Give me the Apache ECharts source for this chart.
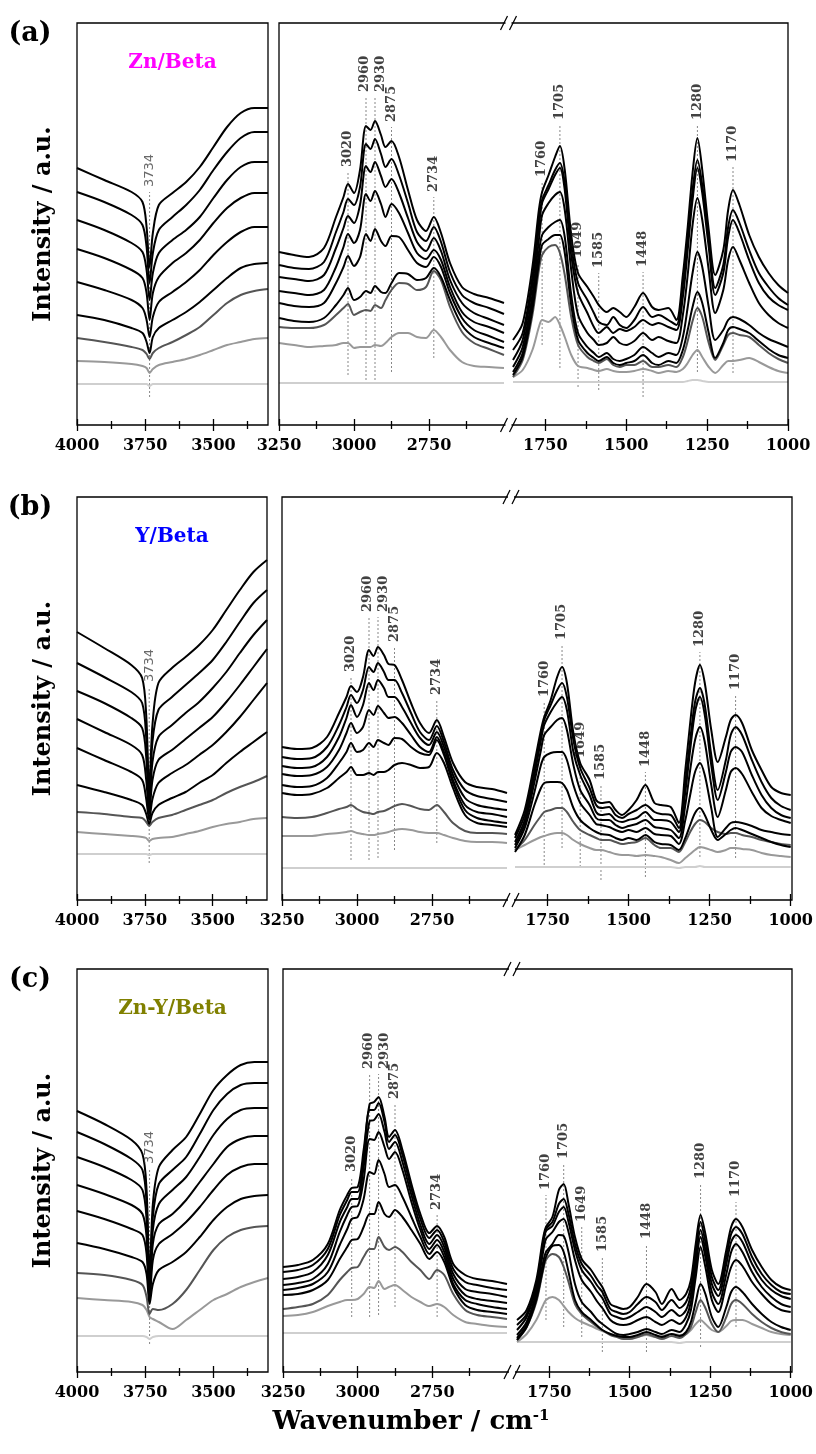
<!DOCTYPE html>
<html>
<head>
<meta charset="utf-8">
<title>In situ FTIR spectra</title>
<script src="https://cdn.jsdelivr.net/npm/echarts@6/dist/echarts.min.js"></script>
<style>
  html, body { margin: 0; padding: 0; background: #fff; }
  #chart { width: 816px; height: 1454px; }
</style>
</head>
<body>
<div id="chart"></div>
<script>
// wavenumber grids (cm-1) of the three windows
const xLeft = [4000, 3900, 3800, 3760, 3745, 3734, 3722, 3700, 3650, 3600, 3550, 3500, 3450, 3400, 3350, 3300];
const xMid = [3250, 3200, 3150, 3100, 3060, 3035, 3020, 3000, 2980, 2960, 2945, 2930, 2910, 2895, 2875, 2850, 2820, 2790, 2760, 2734, 2710, 2680, 2640, 2600, 2550, 2500];
const xRight = [1850, 1820, 1790, 1770, 1760, 1740, 1720, 1705, 1690, 1670, 1649, 1620, 1600, 1585, 1560, 1540, 1520, 1500, 1475, 1448,
  1420, 1400, 1370, 1345, 1325, 1310, 1295, 1280, 1265, 1245, 1225, 1200, 1185, 1170, 1150, 1120, 1090, 1060, 1030, 1000];

// tick labels
const ticksLeft = [4000, 3750, 3500];
const minorLeft = [3875, 3625, 3375];
const ticksMid = [3250, 3000, 2750];
const minorMid = [3125, 2875, 2625];
const ticksRight = [1750, 1500, 1250, 1000];
const minorRight = [1625, 1375, 1125];

// trace colours, top spectrum first
const traceColors = ['#000', '#000', '#000', '#000', '#000', '#000', '#555', '#999', '#cfcfcf'];

// (a) Zn/Beta
const znLeft = [
  [257,245,233,223,198,158,192,220,232,243,258,278,298,312,317,317],
  [233,223,210,200,178,142,172,195,208,220,235,255,273,287,293,293],
  [205,195,182,173,155,125,152,172,185,195,208,227,245,258,263,263],
  [176,167,155,147,132,105,132,148,162,172,185,202,217,227,232,232],
  [143,135,125,117,105,88,108,123,133,143,155,170,183,193,198,198],
  [110,105,97,92,83,72,88,97,105,113,123,135,147,157,161,162],
  [87,83,78,75,71,66,72,77,83,90,98,110,122,130,134,136],
  [64,63,61,59,57,52,56,60,63,66,70,75,80,83,86,87],
  [41,41,41,41,41,39,41,41,41,41,41,41,41,41,41,41]
];
const znMid = [
  [173,170,168,177,208,228,241,232,255,299,295,304,290,278,284,268,235,205,194,208,192,162,138,131,127,122],
  [160,157,156,163,193,213,226,220,238,281,276,286,271,258,266,250,222,193,184,198,183,153,130,122,117,111],
  [148,146,144,150,177,197,209,202,220,259,253,263,249,238,246,232,207,183,174,187,174,145,122,112,106,100],
  [134,132,130,135,158,178,191,182,195,231,224,234,221,208,221,212,192,172,166,175,165,138,113,103,98,92],
  [122,119,118,122,142,158,169,159,168,191,184,196,184,179,189,188,175,162,158,168,158,132,107,95,89,83],
  [107,104,103,107,120,130,137,125,128,134,132,139,133,132,142,152,151,145,147,157,148,125,100,88,82,77],
  [98,97,97,100,110,117,121,110,113,115,114,120,117,125,135,142,141,135,138,154,145,118,93,82,76,70],
  [82,80,78,79,80,82,82,77,78,78,78,80,79,82,88,92,92,88,87,95,88,75,63,59,58,57],
  [42,42,42,42,42,42,42,42,42,42,42,42,42,42,42,42,42,42,42,42,42,42,42,42,42,42]
];
const znRight = [
  [85,102,158,215,233,250,268,279,255,190,152,138,128,120,113,117,113,108,118,132,118,115,117,105,150,198,252,287,255,195,150,175,215,235,220,190,168,152,140,132],
  [75,92,148,205,225,240,255,262,242,180,142,125,112,103,100,108,100,97,105,118,108,110,105,100,140,185,235,265,240,185,137,160,198,215,202,175,152,138,127,120],
  [65,85,140,198,222,236,250,257,235,170,132,112,98,92,98,92,96,94,98,105,100,102,98,95,128,175,225,257,232,178,130,152,188,205,192,165,142,128,120,115],
  [58,78,130,185,210,222,230,233,215,155,110,92,85,80,82,88,82,80,84,92,85,88,84,82,110,150,200,227,205,155,112,135,165,178,165,142,122,110,102,97],
  [53,72,122,172,190,198,203,205,188,130,92,78,72,68,72,66,64,66,70,78,72,68,72,70,88,118,152,173,158,118,85,95,105,108,106,100,92,86,82,78],
  [50,68,115,162,180,186,190,190,172,120,85,72,67,64,68,62,60,62,64,70,62,60,64,62,75,95,118,133,122,92,67,82,95,98,96,92,84,76,70,67],
  [48,65,110,155,170,178,180,172,150,108,80,68,64,62,66,60,58,60,60,64,58,58,60,58,68,84,104,117,108,82,65,80,90,92,90,88,80,72,66,62],
  [48,55,75,98,105,103,108,100,88,70,59,57,55,54,56,54,53,53,54,56,54,52,54,53,56,62,70,75,68,58,52,60,64,64,65,67,63,58,54,52],
  [43,43,43,43,43,43,43,43,43,43,43,43,43,43,43,43,43,43,43,43,43,43,43,43,43,44,45,45,44,43,43,43,43,43,43,43,43,43,43,43]
];

// (b) Y/Beta
const yLeft = [
  [268,252,235,222,185,110,175,217,232,243,255,270,290,310,328,340],
  [237,223,208,197,162,100,158,190,203,215,227,240,258,278,297,310],
  [209,197,182,172,143,92,138,163,175,187,198,212,228,247,265,280],
  [181,168,155,145,120,86,120,140,150,161,172,183,198,215,233,251],
  [152,140,128,120,101,80,101,117,127,135,145,155,168,183,200,217],
  [115,108,100,95,86,76,87,95,102,108,117,125,137,148,158,168],
  [88,86,83,82,78,74,78,82,85,90,95,100,107,113,118,124],
  [68,66,64,63,62,59,61,62,63,66,69,73,76,78,81,82],
  [46,46,46,46,46,45,46,46,46,46,46,46,46,46,46,46]
];
const yMid = [
  [153,151,152,163,187,203,214,208,223,250,244,253,245,236,235,220,197,177,167,180,163,137,118,113,111,107],
  [143,141,142,153,175,193,205,197,210,233,228,237,228,220,220,207,187,168,160,174,158,130,110,104,101,98],
  [134,132,133,143,163,182,195,183,195,217,210,220,212,203,203,193,177,162,155,168,153,125,102,95,92,90],
  [126,124,125,133,150,167,177,167,173,190,185,194,187,182,183,177,165,153,148,163,148,120,95,88,86,83],
  [115,113,114,122,137,148,157,148,150,157,153,160,157,155,162,161,153,147,145,160,145,117,90,82,79,77],
  [107,105,106,112,122,128,133,125,125,127,125,128,128,130,135,137,135,132,133,147,137,112,85,77,75,73],
  [83,82,83,87,91,93,95,91,88,87,86,88,89,91,94,96,94,91,90,95,88,77,69,67,67,66],
  [64,64,64,66,67,68,69,67,66,65,65,66,67,68,70,71,70,68,67,67,65,62,59,58,58,57],
  [32,32,32,32,32,32,32,32,32,32,32,32,32,32,32,32,32,32,32,32,32,32,32,32,32,32]
];
const yRight = [
  [65,90,137,170,183,200,223,233,217,167,137,120,100,97,98,90,85,90,100,115,97,95,93,77,130,177,217,235,217,170,138,163,180,185,177,150,130,113,107,105],
  [62,85,130,165,180,195,210,217,203,160,132,112,95,92,93,85,82,86,90,95,88,86,85,72,118,160,198,212,195,145,110,140,165,173,165,140,118,102,94,90],
  [58,80,125,160,175,188,198,203,190,148,125,105,88,85,86,80,78,80,82,88,80,80,78,68,108,150,188,203,185,135,100,128,148,153,148,125,105,92,85,82],
  [55,76,118,150,165,173,180,182,170,135,110,95,82,80,80,75,72,74,76,80,73,72,70,62,95,130,160,173,158,115,83,110,128,132,126,108,92,84,80,77],
  [52,72,108,135,143,147,148,148,140,115,97,85,76,75,73,70,68,70,68,72,66,65,64,56,80,105,128,137,125,92,63,72,77,78,77,74,70,68,66,65],
  [48,65,95,112,117,118,118,117,110,92,80,72,68,66,65,62,60,62,60,65,58,56,55,50,62,75,87,92,85,70,60,66,70,72,70,66,62,58,55,53],
  [50,60,75,84,88,90,92,92,88,78,70,65,62,60,60,58,56,57,58,62,55,52,52,48,58,68,76,80,78,72,68,66,67,67,65,63,60,58,56,55],
  [50,55,60,63,64,66,67,67,65,60,56,52,50,50,48,46,45,45,44,45,44,43,40,37,42,46,50,53,52,50,48,50,52,52,51,50,47,45,44,43],
  [33,33,33,33,33,33,33,33,33,33,33,33,33,33,33,33,33,33,33,33,33,33,33,32,33,33,33,34,33,33,33,33,33,33,33,33,33,33,33,33]
];

// (c) Zn-Y/Beta
const zyLeft = [
  [261,248,232,218,182,95,168,205,222,235,258,282,297,307,310,310],
  [240,228,213,202,168,85,155,188,202,215,238,262,278,287,289,289],
  [215,205,192,182,152,78,142,168,182,195,215,237,253,262,264,264],
  [187,178,167,158,135,73,128,148,158,172,190,208,225,233,236,236],
  [161,153,143,137,118,70,112,128,138,150,165,182,197,205,208,208],
  [129,123,115,110,98,68,88,102,110,120,135,152,165,173,176,177],
  [99,97,92,87,75,58,63,62,68,82,102,122,135,142,145,146],
  [74,72,70,67,62,55,53,50,43,52,62,72,78,85,90,94],
  [36,36,36,36,35,33,35,36,36,36,36,36,36,36,36,36]
];
const zyMid = [
  [105,107,112,128,162,177,184,185,222,268,270,275,255,235,242,222,188,158,139,146,135,108,97,93,91,88],
  [100,102,107,123,157,172,180,180,215,262,262,269,250,230,237,217,183,153,134,142,130,103,90,87,84,82],
  [93,95,100,117,150,165,173,173,205,251,252,258,240,223,230,210,177,147,128,137,125,98,83,80,78,75],
  [87,89,93,108,140,157,165,166,192,233,232,240,225,213,220,202,170,142,123,132,120,93,77,73,71,69],
  [82,84,88,100,127,143,153,155,173,200,198,212,198,185,187,175,155,135,118,127,115,88,72,68,65,63],
  [77,78,82,92,113,125,132,133,145,158,158,170,158,155,162,155,142,128,113,120,110,85,67,62,60,58],
  [63,65,68,77,92,100,104,105,115,123,123,135,125,122,125,120,110,102,93,102,97,78,62,57,55,53],
  [56,57,60,66,70,72,72,73,78,85,84,91,83,85,87,82,75,70,66,68,65,57,50,48,46,45],
  [39,39,39,39,39,39,39,39,39,39,39,39,39,39,39,39,39,39,39,39,39,39,39,39,39,39]
];
const zyRight = [
  [52,62,92,132,145,155,182,188,168,135,113,102,92,85,68,65,63,65,75,88,80,68,83,72,78,92,128,157,138,102,88,122,145,153,145,122,105,92,85,82],
  [47,58,88,128,143,150,168,173,158,128,108,96,86,80,63,60,58,60,68,75,70,62,72,64,70,85,120,150,130,95,82,115,138,145,138,115,98,87,80,78],
  [42,55,85,125,141,146,160,165,150,122,102,90,80,74,58,55,53,55,60,65,60,55,62,56,62,78,112,142,122,88,76,108,130,137,130,108,92,82,76,73],
  [37,50,80,118,133,140,150,153,140,112,92,80,70,64,52,48,47,48,52,55,50,47,52,48,55,70,105,135,115,80,68,98,120,128,120,100,85,75,68,65],
  [34,47,75,108,120,128,137,136,120,88,70,60,52,48,42,38,37,38,40,43,40,38,42,40,48,62,95,125,105,72,60,88,105,112,106,90,78,68,62,60],
  [32,45,72,102,115,126,127,120,100,72,60,52,46,42,38,36,35,35,37,40,37,35,38,36,40,50,70,88,78,55,45,65,80,85,80,68,58,50,45,42],
  [32,45,70,100,112,118,115,105,90,68,58,50,45,42,37,35,33,33,35,38,35,33,36,34,38,45,60,72,64,48,40,55,68,72,68,58,50,44,40,38],
  [30,38,52,66,72,75,72,66,60,54,50,46,43,41,38,36,34,34,35,37,35,36,38,37,38,42,48,52,48,42,40,46,51,52,52,48,44,40,38,37],
  [30,30,30,30,30,30,30,30,30,30,30,30,30,30,30,30,30,30,30,30,30,30,30,29,30,30,30,30,30,30,30,30,30,30,30,30,30,30,30,30]
];

// marked bands: [wavenumber, dotted line bottom, dotted line top]
const znPeaksLeft = [[3734, 28, 233]];
const znPeaksMid = [[3020, 50, 253], [2960, 45, 328], [2930, 45, 328], [2875, 53, 298], [2734, 67, 228]];
const znPeaksRight = [[1760, 80, 243], [1705, 57, 300], [1649, 38, 162], [1585, 35, 152], [1448, 28, 153], [1280, 53, 300], [1170, 52, 258]];
const yPeaksLeft = [[3734, 37, 213]];
const yPeaksMid = [[3020, 40, 223], [2960, 40, 283], [2930, 42, 283], [2875, 50, 253], [2734, 57, 200]];
const yPeaksRight = [[1760, 35, 198], [1705, 52, 255], [1649, 33, 137], [1585, 20, 115], [1448, 23, 128], [1280, 43, 248], [1170, 42, 205]];
const zyPeaksLeft = [[3734, 28, 203]];
const zyPeaksMid = [[3020, 55, 195], [2960, 55, 298], [2930, 57, 298], [2875, 65, 268], [2734, 55, 157]];
const zyPeaksRight = [[1760, 52, 177], [1705, 45, 208], [1649, 35, 145], [1585, 20, 115], [1448, 20, 128], [1280, 25, 188], [1170, 45, 170]];

// small sideways nudges (px) so neighbouring band labels do not collide
const labelNudge = { 2930: 6, 2960: -1 };

const panels = [
  { tag: '(a)', name: 'Zn/Beta', color: '#ff00ff', top: 23, h: 402, left: [77, 268], mid: [279, 504], right: [513, 788],
    curves: [znLeft, znMid, znRight], peaks: [znPeaksLeft, znPeaksMid, znPeaksRight] },
  { tag: '(b)', name: 'Y/Beta', color: '#0000ff', top: 497, h: 403, left: [77, 267], mid: [282, 507], right: [515, 792],
    curves: [yLeft, yMid, yRight], peaks: [yPeaksLeft, yPeaksMid, yPeaksRight] },
  { tag: '(c)', name: 'Zn-Y/Beta', color: '#808000', top: 969, h: 403, left: [77, 268], mid: [283, 507], right: [517, 792],
    curves: [zyLeft, zyMid, zyRight], peaks: [zyPeaksLeft, zyPeaksMid, zyPeaksRight] }
];

const serif = '"DejaVu Serif", "Liberation Serif", serif';
const sans = '"DejaVu Sans", "Liberation Sans", sans-serif';

const grids = [], xAxes = [], yAxes = [], series = [], graphics = [];

panels.forEach(p => {
  const segs = [
    { px: p.left, min: 3300, max: 4000, xs: xLeft, ticks: ticksLeft, minor: minorLeft, curves: p.curves[0], peaks: p.peaks[0], font: sans, fw: 'normal', fcol: '#444' },
    { px: p.mid, min: 2500, max: 3250, xs: xMid, ticks: ticksMid, minor: minorMid, curves: p.curves[1], peaks: p.peaks[1], font: serif, fw: 'bold', fcol: '#111' },
    { px: p.right, min: 1000, max: 1850, xs: xRight, ticks: ticksRight, minor: minorRight, curves: p.curves[2], peaks: p.peaks[2], font: serif, fw: 'bold', fcol: '#111' }
  ];
  segs.forEach(s => {
    const gi = grids.length;
    grids.push({ left: s.px[0], top: p.top, width: s.px[1] - s.px[0], height: p.h });
    yAxes.push({ type: 'value', gridIndex: gi, min: 0, max: p.h, show: false });
    const xi = xAxes.length;
    const base = { type: 'value', gridIndex: gi, inverse: true, min: s.min, max: s.max, position: 'bottom',
      axisLine: { show: false }, splitLine: { show: false } };
    const tickStyle = { color: '#000', width: 1.3 };
    xAxes.push(Object.assign({}, base, {
      axisTick: { show: true, customValues: s.ticks, length: 6, lineStyle: tickStyle },
      axisLabel: { show: true, customValues: s.ticks, margin: 13, formatter: v => String(v),
        fontFamily: serif, fontWeight: 'bold', fontSize: 16, color: '#000' }
    }));
    xAxes.push(Object.assign({}, base, {
      axisTick: { show: true, inside: true, customValues: s.ticks, length: 6, lineStyle: tickStyle },
      axisLabel: { show: false }
    }));
    xAxes.push(Object.assign({}, base, {
      axisTick: { show: true, customValues: s.minor, length: 4, lineStyle: tickStyle },
      axisLabel: { show: false }
    }));
    xAxes.push(Object.assign({}, base, {
      axisTick: { show: true, inside: true, customValues: s.minor, length: 4, lineStyle: tickStyle },
      axisLabel: { show: false }
    }));

    // dotted markers under the spectra
    s.peaks.forEach(pk => {
      series.push({
        type: 'line', xAxisIndex: xi, yAxisIndex: gi, silent: true, z: 2,
        data: [[pk[0], pk[1]], [pk[0], pk[2]]], showSymbol: false,
        lineStyle: { color: '#888', width: 1, type: [2, 2] }
      });
    });
    series.push({
      type: 'scatter', xAxisIndex: xi, yAxisIndex: gi, silent: true, symbolSize: 0, z: 5,
      data: s.peaks.map(pk => ({
        value: [pk[0], pk[2]], name: String(pk[0]),
        label: { position: [labelNudge[pk[0]] || 0, -5] }
      })),
      label: {
        show: true, formatter: '{b}', rotate: 90,
        align: 'left', verticalAlign: 'middle',
        fontFamily: s.font, fontWeight: s.fw, fontSize: 13, color: s.fcol
      }
    });

    // spectra, lightest first so the black ones sit on top
    for (let k = s.curves.length - 1; k >= 0; k--) {
      series.push({
        type: 'line', xAxisIndex: xi, yAxisIndex: gi, silent: true, z: 3,
        data: s.xs.map((x, i) => [x, s.curves[k][i]]),
        showSymbol: false, smooth: 0.3,
        lineStyle: { color: traceColors[k], width: 2 }
      });
    }
  });

  // frames
  const bottom = p.top + p.h;
  graphics.push({ type: 'rect', z: 10, shape: { x: p.left[0], y: p.top, width: p.left[1] - p.left[0], height: p.h },
    style: { fill: null, stroke: '#000', lineWidth: 1.3 } });
  graphics.push({ type: 'rect', z: 10, shape: { x: p.mid[0], y: p.top, width: p.right[1] - p.mid[0], height: p.h },
    style: { fill: null, stroke: '#000', lineWidth: 1.3 } });

  // axis break marks
  const bx = (p.mid[1] + p.right[0]) / 2;
  [p.top, bottom].forEach(yy => {
    graphics.push({ type: 'rect', z: 11, shape: { x: bx - 3, y: yy - 2, width: 6, height: 4 }, style: { fill: '#fff' } });
    graphics.push({ type: 'line', z: 12, shape: { x1: bx - 8, y1: yy + 7, x2: bx - 1, y2: yy - 7 }, style: { stroke: '#000', lineWidth: 1.2 } });
    graphics.push({ type: 'line', z: 12, shape: { x1: bx + 1, y1: yy + 7, x2: bx + 8, y2: yy - 7 }, style: { stroke: '#000', lineWidth: 1.2 } });
  });

  // panel letter, sample name, y title
  graphics.push({ type: 'text', z: 12, x: 30, y: p.top + 11,
    style: { text: p.tag, fontFamily: serif, fontWeight: 'bold', fontSize: 27, fill: '#000', align: 'center', verticalAlign: 'middle' } });
  graphics.push({ type: 'text', z: 12, x: (p.left[0] + p.left[1]) / 2, y: p.top + 40,
    style: { text: p.name, fontFamily: serif, fontWeight: 'bold', fontSize: 20, fill: p.color, align: 'center', verticalAlign: 'middle' } });
  graphics.push({ type: 'text', z: 12, x: 44, y: p.top + p.h / 2, rotation: Math.PI / 2,
    style: { text: 'Intensity / a.u.', fontFamily: serif, fontWeight: 'bold', fontSize: 24, fill: '#000', align: 'center', verticalAlign: 'middle' } });
});

// x title
graphics.push({ type: 'text', z: 12, x: 411, y: 1422,
  style: {
    text: '{m|Wavenumber / cm}{s|-1}', align: 'center', verticalAlign: 'middle',
    rich: {
      m: { fontFamily: serif, fontWeight: 'bold', fontSize: 26, fill: '#000' },
      s: { fontFamily: serif, fontWeight: 'bold', fontSize: 15, fill: '#000', verticalAlign: 'top' }
    }
  } });

const chart = echarts.init(document.getElementById('chart'));
chart.setOption({
  animation: false,
  backgroundColor: '#fff',
  grid: grids,
  xAxis: xAxes,
  yAxis: yAxes,
  series: series,
  graphic: graphics
});
</script>
</body>
</html>
